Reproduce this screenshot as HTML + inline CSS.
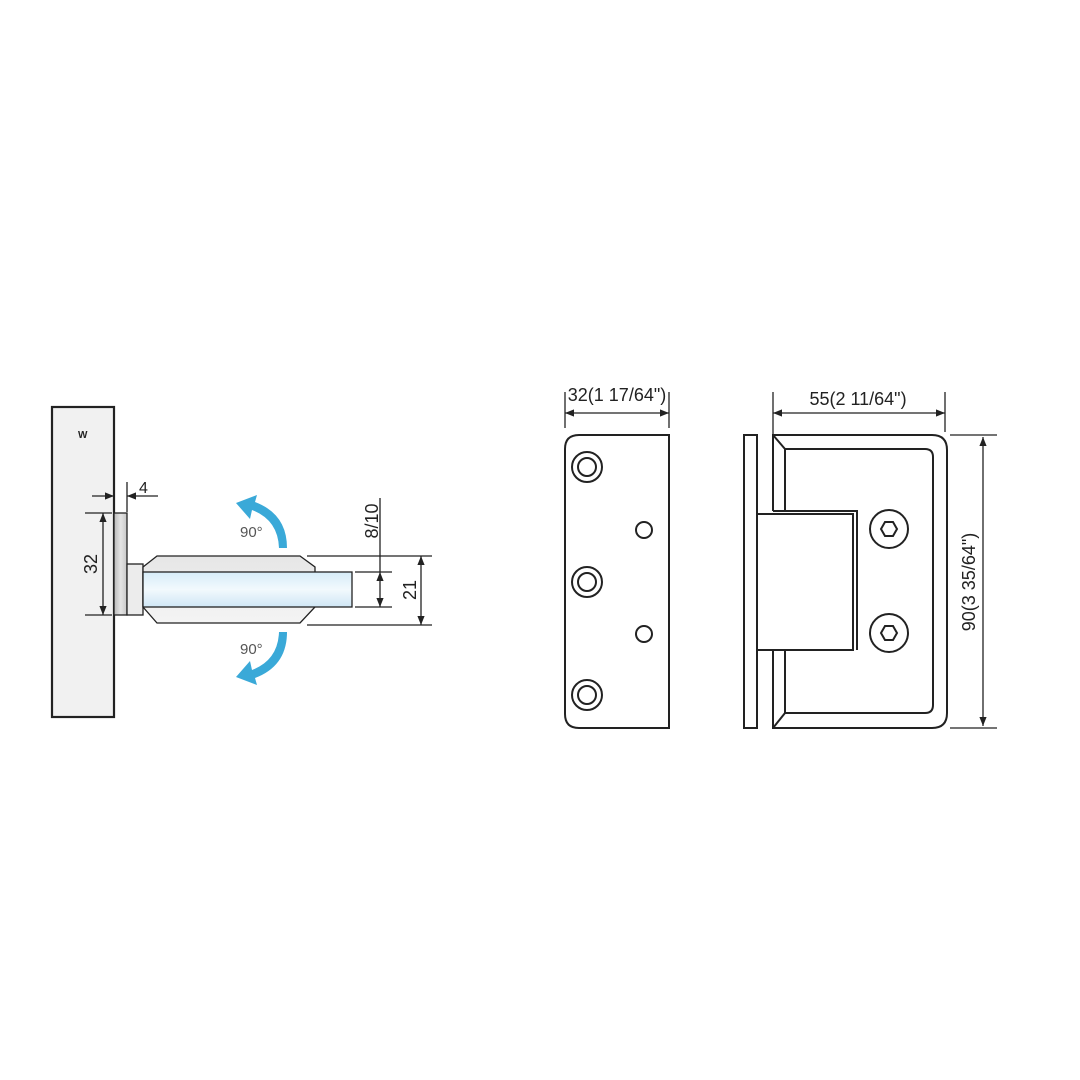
<!DOCTYPE html>
<html><head><meta charset="utf-8"><style>html,body{margin:0;padding:0;background:#fff}svg{display:block}</style></head>
<body>
<svg width="1080" height="1080" viewBox="0 0 1080 1080" xmlns="http://www.w3.org/2000/svg" font-family="Liberation Sans, sans-serif">
<defs>
<linearGradient id="gl" x1="0" y1="0" x2="0" y2="1"><stop offset="0" stop-color="#d6ecf8"/><stop offset="0.5" stop-color="#f2f9fd"/><stop offset="1" stop-color="#cfe6f5"/></linearGradient>
<linearGradient id="pl" x1="0" y1="0" x2="1" y2="0"><stop offset="0" stop-color="#b8b8b8"/><stop offset="0.5" stop-color="#e4e4e4"/><stop offset="1" stop-color="#c8c8c8"/></linearGradient>
<linearGradient id="cb" x1="0" y1="0" x2="0" y2="1"><stop offset="0" stop-color="#e6e6e6"/><stop offset="1" stop-color="#f4f4f4"/></linearGradient>
<marker id="ar" viewBox="0 0 10 10" refX="10" refY="5" markerWidth="7" markerHeight="7" orient="auto-start-reverse"><path d="M0,1 L10,5 L0,9z" fill="#222"/></marker>
</defs>
<g stroke="#222" fill="none" stroke-width="1.3">
<rect x="52" y="407" width="62" height="310" fill="#f1f1f1" stroke-width="2.2"/>
<rect x="114" y="513" width="13" height="102" fill="url(#pl)"/>
<rect x="127" y="564" width="16" height="51" fill="#ececec"/>
<polygon points="143,567 157,556 300,556 315,567 315,607 300,623 157,623 143,607" fill="url(#cb)"/>
<rect x="143" y="572" width="209" height="35" fill="url(#gl)"/>
<line x1="114" y1="482" x2="114" y2="512"/><line x1="127" y1="482" x2="127" y2="512"/>
<line x1="92" y1="496" x2="114" y2="496" marker-end="url(#ar)"/><line x1="158" y1="496" x2="127" y2="496" marker-end="url(#ar)"/>
<line x1="85" y1="513" x2="112" y2="513"/><line x1="85" y1="615" x2="112" y2="615"/>
<line x1="103" y1="513" x2="103" y2="615" marker-start="url(#ar)" marker-end="url(#ar)"/>
<line x1="380" y1="498" x2="380" y2="572" /><line x1="380" y1="572" x2="380" y2="607" marker-start="url(#ar)" marker-end="url(#ar)"/>
<line x1="355" y1="572" x2="392" y2="572"/><line x1="355" y1="607" x2="392" y2="607"/>
<line x1="307" y1="556" x2="432" y2="556"/><line x1="307" y1="625" x2="432" y2="625"/>
<line x1="421" y1="556" x2="421" y2="625" marker-start="url(#ar)" marker-end="url(#ar)"/>
</g>
<g fill="#3aa9d8">
<path d="M287,548 Q287,514 255,502 L257,495 L236,503 L250,519 L252,510 Q278,520 279,548z"/>
<path d="M287,632 Q287,666 255,678 L257,685 L236,677 L250,661 L252,670 Q278,660 279,632z"/>
</g>
<g fill="#222" font-size="18">
<text x="78" y="438" font-size="10" font-weight="bold">W</text>
<text x="139" y="493" font-size="16">4</text>
<text transform="translate(97,564) rotate(-90)" text-anchor="middle">32</text>
<text transform="translate(378,521) rotate(-90)" text-anchor="middle">8/10</text>
<text transform="translate(416,590) rotate(-90)" text-anchor="middle">21</text>
<text x="240" y="537" fill="#555" font-size="15">90°</text>
<text x="240" y="654" fill="#555" font-size="15">90°</text>
<text x="617" y="401" text-anchor="middle">32(1 17/64")</text>
<text x="858" y="405" text-anchor="middle">55(2 11/64")</text>
<text transform="translate(975,582) rotate(-90)" text-anchor="middle">90(3 35/64")</text>
</g>
<g stroke="#222" fill="none" stroke-width="2">
<path d="M669,435 L579,435 Q565,435 565,449 L565,714 Q565,728 579,728 L669,728z"/>
<circle cx="587" cy="467" r="15"/><circle cx="587" cy="467" r="9"/>
<circle cx="587" cy="582" r="15"/><circle cx="587" cy="582" r="9"/>
<circle cx="587" cy="695" r="15"/><circle cx="587" cy="695" r="9"/>
<circle cx="644" cy="530" r="8"/><circle cx="644" cy="634" r="8"/>
<g stroke-width="1.3"><line x1="565" y1="392" x2="565" y2="428"/><line x1="669" y1="392" x2="669" y2="428"/>
<line x1="565" y1="413" x2="669" y2="413" marker-start="url(#ar)" marker-end="url(#ar)"/></g>
<rect x="744" y="435" width="13" height="293"/>
<path d="M773,511 L773,435 L932,435 Q947,435 947,450 L947,713 Q947,728 932,728 L773,728 L773,650"/>
<path d="M785,511 L785,449 L925,449 Q933,449 933,457 L933,705 Q933,713 925,713 L785,713 L785,650"/>
<line x1="773" y1="435" x2="785" y2="449"/><line x1="773" y1="728" x2="785" y2="713"/>
<rect x="757" y="514" width="96" height="136"/>
<path d="M773,511 L857,511 L857,650"/>
<circle cx="889" cy="529" r="19"/><polygon points="897,529 893,536 885,536 881,529 885,522 893,522"/>
<circle cx="889" cy="633" r="19"/><polygon points="897,633 893,640 885,640 881,633 885,626 893,626"/>
<g stroke-width="1.3">
<line x1="773" y1="392" x2="773" y2="440"/><line x1="945" y1="392" x2="945" y2="432"/>
<line x1="773" y1="413" x2="945" y2="413" marker-start="url(#ar)" marker-end="url(#ar)"/>
<line x1="950" y1="435" x2="997" y2="435"/><line x1="950" y1="728" x2="997" y2="728"/>
<line x1="983" y1="437" x2="983" y2="726" marker-start="url(#ar)" marker-end="url(#ar)"/></g>
</g>
</svg>
</body></html>
